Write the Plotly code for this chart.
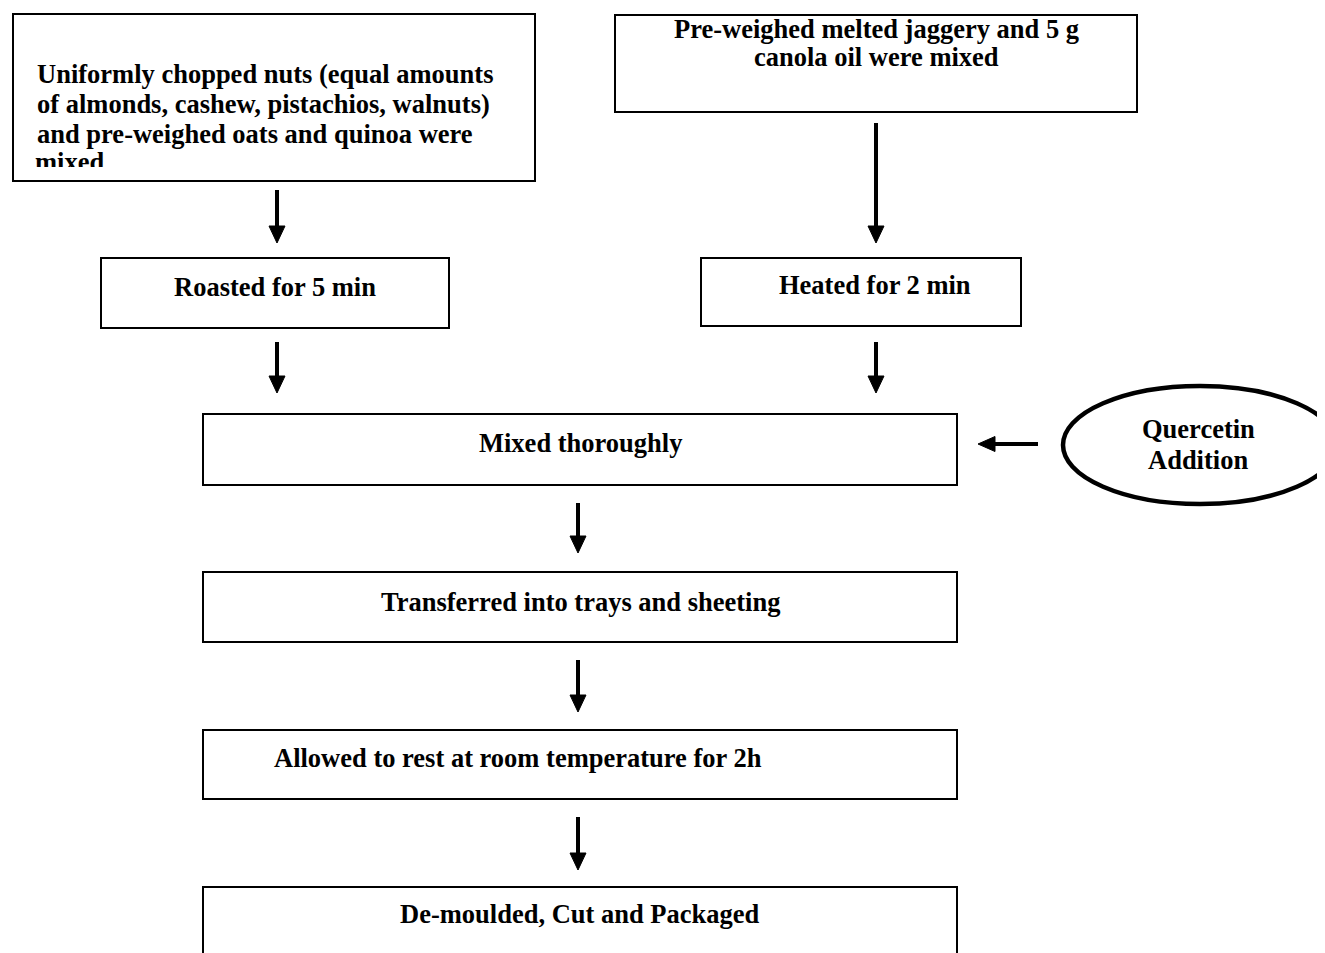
import plotly.graph_objects as go

# ---- content (text of the flow chart) ----
nuts_lines = [
    "Uniformly chopped nuts (equal amounts",
    "of almonds, cashew, pistachios, walnuts)",
    "and pre-weighed oats and quinoa were",
    "mixed",
]
jaggery_lines = ["Pre-weighed melted jaggery and 5 g", "canola oil were mixed"]
left_step = "Roasted for 5 min"
right_step = "Heated for 2 min"
main_steps = [
    "Mixed thoroughly",
    "Transferred into trays and sheeting",
    "Allowed to rest at room temperature for 2h",
    "De-moulded, Cut and Packaged",
]
additive_lines = ["Quercetin", "Addition"]

# ---- layout (pixel geometry, page coordinates) ----
W, H = 1325, 953
OFF = 8  # default body margin of the html page
FONT = "Liberation Serif, Times New Roman, serif"
FS = 26.5
BOX_LW = 2

fig = go.Figure()
shapes = []
annotations = []


def rect(x0, y0, x1, y1, lw=BOX_LW):
    shapes.append(dict(type="rect", x0=x0, y0=y0, x1=x1, y1=y1,
                       line=dict(color="black", width=lw), fillcolor="rgba(0,0,0,0)",
                       layer="below"))


def label(x, y, txt, anchor="center"):
    annotations.append(dict(x=x, y=y, text="<b>" + txt + "</b>", showarrow=False,
                            xanchor=anchor, yanchor="middle",
                            font=dict(family=FONT, size=FS, color="black")))


def varrow(x, y0, y1, hw=8, hl=17, lw=4):
    shapes.append(dict(type="line", x0=x, x1=x, y0=y0, y1=y1 - hl + 2,
                       line=dict(color="black", width=lw)))
    shapes.append(dict(type="path",
                       path=f"M {x-hw},{y1-hl} L {x+hw},{y1-hl} L {x},{y1} Z",
                       fillcolor="black", line=dict(color="black", width=1)))


def harrow_left(y, x0, x1, hw=7.5, hl=17, lw=4):
    shapes.append(dict(type="line", x0=x0, x1=x1 + hl - 2, y0=y, y1=y,
                       line=dict(color="black", width=lw)))
    shapes.append(dict(type="path",
                       path=f"M {x1+hl},{y-hw} L {x1+hl},{y+hw} L {x1},{y} Z",
                       fillcolor="black", line=dict(color="black", width=1)))


# Box 1 (nuts)
rect(13, 14, 535, 181)
nuts_y = [74, 104, 134]
for t, yy in zip(nuts_lines[:3], nuts_y):
    label(35, yy, t, anchor="left")
# last line is partially hidden (clipped) in the original
fig.add_trace(go.Scatter(x=[35], y=[164], mode="text", text=["<b>" + nuts_lines[3] + "</b>"],
                         textposition="middle right", hoverinfo="skip",
                         textfont=dict(family=FONT, size=FS, color="black")))
shapes.append(dict(type="rect", x0=20, x1=528, y0=167, y1=179.5, fillcolor="white",
                   line=dict(width=0), layer="above"))

# Box 2 (jaggery)
rect(615, 15, 1137, 112)
for t, yy in zip(jaggery_lines, [29, 57]):
    label(876, yy, t)

# arrows from top boxes
varrow(277, 190, 243)
varrow(876, 123, 243)

# second row boxes
rect(101, 258, 449, 328)
label(275, 287, left_step)
rect(701, 258, 1021, 326)
label(875, 285, right_step)

varrow(277, 342, 393)
varrow(876, 342, 393)

# main column
main_boxes = [(414, 485), (572, 642), (730, 799), (887, 970)]
main_text_pos = [(580, 443), (580, 602), (518, 758), (580, 914)]
for (y0, y1), (tx, ty), t in zip(main_boxes, main_text_pos, main_steps):
    rect(203, y0, 957, y1)
    label(tx, ty, t)

varrow(578, 503, 553)
varrow(578, 660, 712)
varrow(578, 817, 870)

# additive ellipse + arrow
shapes.append(dict(type="circle", x0=1063, x1=1337, y0=386, y1=504,
                   line=dict(color="black", width=4.5), fillcolor="rgba(0,0,0,0)"))
label(1198, 429, additive_lines[0])
label(1198, 460, additive_lines[1])
harrow_left(444, 1038, 978)

fig.update_layout(
    width=W - OFF, height=H - OFF,
    margin=dict(l=0, r=0, t=0, b=0),
    paper_bgcolor="white", plot_bgcolor="white",
    showlegend=False,
    shapes=shapes, annotations=annotations,
    xaxis=dict(range=[OFF, W], visible=False, fixedrange=True),
    yaxis=dict(range=[H, OFF], visible=False, fixedrange=True),
)

fig.write_html("out.html")
